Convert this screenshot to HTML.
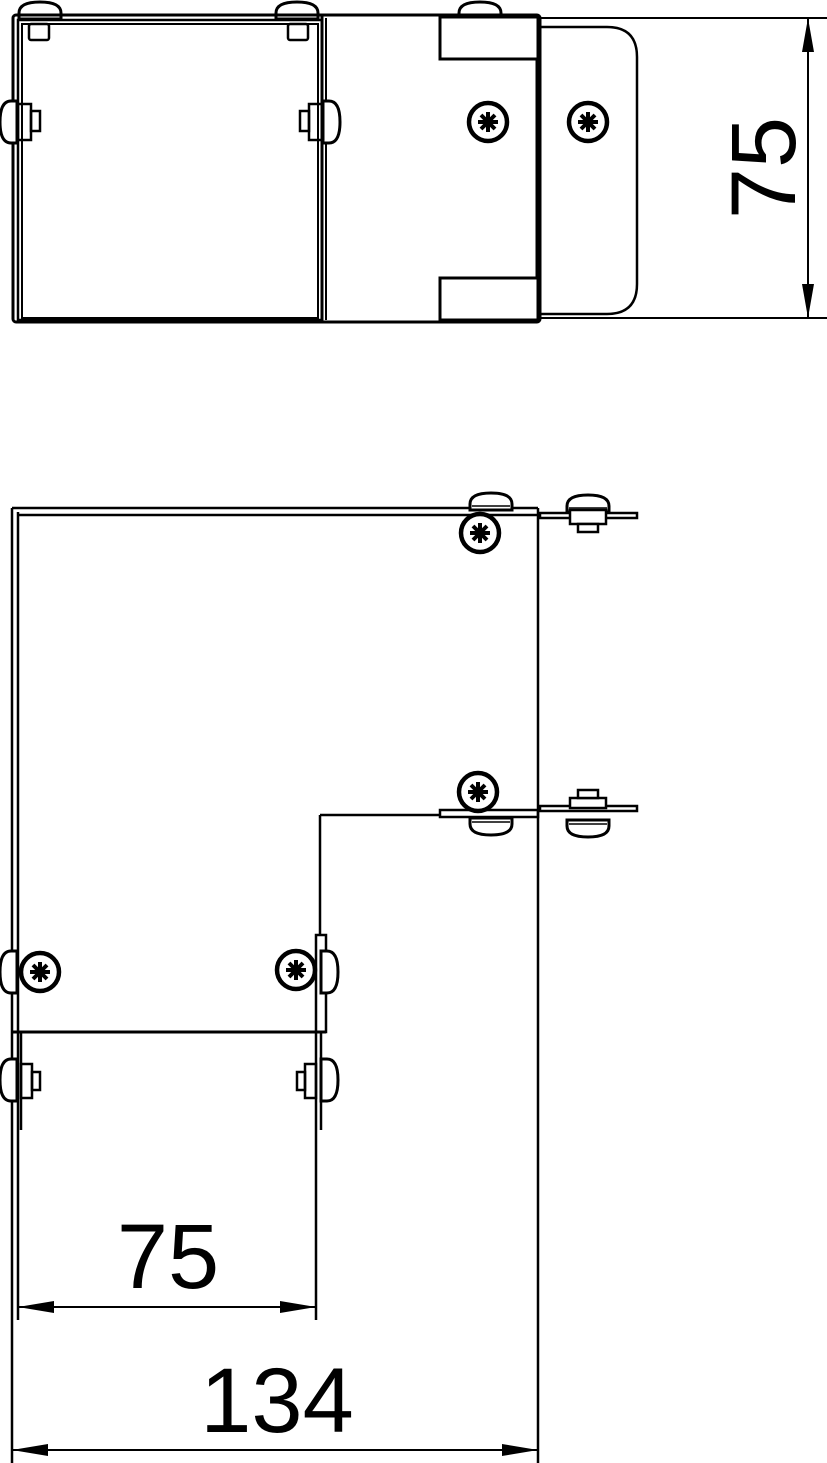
<!DOCTYPE html>
<html><head><meta charset="utf-8"><style>html,body{margin:0;padding:0;background:#fff}svg{display:block}</style></head>
<body>
<svg width="827" height="1463" viewBox="0 0 827 1463" xmlns="http://www.w3.org/2000/svg" fill="none" stroke="#000" stroke-width="2.5">
<defs>
<g id="ps">
<circle r="19" stroke-width="4.5" fill="#fff"/>
<g stroke-width="4"><line x1="-10" y1="0" x2="10" y2="0"/><line x1="0" y1="-10" x2="0" y2="10"/><line x1="-7" y1="-7" x2="7" y2="7"/><line x1="-7" y1="7" x2="7" y2="-7"/></g>
</g>
<g id="capT"><path d="M-21 14 V8 Q-21 -3 0 -3 Q21 -3 21 8 V14 Z" fill="#fff" stroke-width="3"/><line x1="-19" y1="10" x2="19" y2="10" stroke-width="1.5"/></g>
<g id="capL"><path d="M14 -21 H8 Q-3 -21 -3 0 Q-3 21 8 21 H14 Z" fill="#fff" stroke-width="3"/></g>
</defs>

<!-- ===== TOP VIEW ===== -->
<use href="#capT" x="40" y="5"/>
<use href="#capT" x="297" y="5"/>
<use href="#capT" x="480" y="5"/>
<rect x="13" y="15" width="527" height="307" rx="3" stroke-width="3"/>
<rect x="18" y="20" width="304" height="300" stroke-width="2.5"/>
<rect x="22" y="24" width="296" height="294" stroke-width="2"/>
<line x1="322" y1="15" x2="322" y2="322" stroke-width="3"/>
<line x1="326" y1="18" x2="326" y2="320" stroke-width="2"/>
<rect x="29" y="24" width="20" height="16" rx="2"/>
<rect x="288" y="24" width="20" height="16" rx="2"/>
<use href="#capL" x="3" y="122"/>
<rect x="18" y="104" width="13" height="36"/>
<rect x="31" y="111" width="9" height="20"/>
<g transform="translate(640,0) scale(-1,1)"><use href="#capL" x="303" y="122"/></g>
<rect x="309" y="104" width="13" height="36"/>
<rect x="300" y="111" width="9" height="20"/>
<line x1="540" y1="18" x2="827" y2="18" stroke-width="2"/>
<line x1="540" y1="318" x2="827" y2="318" stroke-width="2"/>
<path d="M537 27 H607 Q637 27 637 57 V284 Q637 314 607 314 H537"/>
<line x1="537" y1="18" x2="537" y2="320" stroke-width="3"/>
<rect x="440" y="17" width="98" height="42" fill="#fff" stroke-width="3"/>
<rect x="440" y="278" width="98" height="42" fill="#fff" stroke-width="3"/>
<use href="#ps" x="488" y="122"/>
<use href="#ps" x="588" y="122"/>
<line x1="808" y1="18" x2="808" y2="318" stroke-width="2"/>
<path d="M808 18 L802 52 L814 52 Z M808 318 L802 284 L814 284 Z" fill="#000" stroke="none"/>
<text x="0" y="0" transform="translate(795,168) rotate(-90)" font-family="Liberation Sans, sans-serif" font-size="92" text-anchor="middle" fill="#000" stroke="none">75</text>

<!-- ===== BOTTOM VIEW ===== -->
<line x1="12" y1="508" x2="12" y2="1463"/>
<line x1="18" y1="512" x2="18" y2="1032"/>
<line x1="12" y1="508" x2="538" y2="508"/>
<line x1="18" y1="515" x2="538" y2="515"/>
<line x1="538" y1="508" x2="538" y2="1463"/>
<use href="#capT" x="491" y="496"/>
<line x1="320" y1="815" x2="440" y2="815"/>
<rect x="440" y="810" width="98" height="7"/>
<g transform="translate(0,1640) scale(1,-1)"><use href="#capT" x="491" y="808"/></g>
<line x1="320" y1="815" x2="320" y2="935"/>
<rect x="316" y="935" width="10" height="97"/>
<line x1="12" y1="1032" x2="326" y2="1032" stroke-width="3"/>
<use href="#capL" x="3" y="972"/>
<g transform="translate(650,0) scale(-1,1)"><use href="#capL" x="315" y="972"/></g>
<use href="#ps" x="480" y="533"/>
<use href="#ps" x="478" y="792"/>
<use href="#ps" x="40" y="972"/>
<use href="#ps" x="296" y="970"/>
<!-- right flanges -->
<rect x="540" y="513" width="97" height="5"/>
<use href="#capT" x="588" y="498"/>
<rect x="570" y="510" width="36" height="14" fill="#fff"/>
<rect x="578" y="524" width="20" height="8" fill="#fff"/>
<rect x="540" y="806" width="97" height="5"/>
<rect x="570" y="798" width="36" height="10" fill="#fff"/>
<rect x="578" y="790" width="20" height="8" fill="#fff"/>
<g transform="translate(0,1634) scale(1,-1)"><use href="#capT" x="588" y="800"/></g>
<!-- lower part -->
<line x1="21" y1="1032" x2="21" y2="1130"/>
<line x1="18" y1="1032" x2="18" y2="1320"/>
<line x1="316" y1="1032" x2="316" y2="1320"/>
<line x1="321" y1="1032" x2="321" y2="1130"/>
<use href="#capL" x="3" y="1080"/>
<rect x="21" y="1064" width="11" height="34"/>
<rect x="32" y="1072" width="8" height="18"/>
<g transform="translate(650,0) scale(-1,1)"><use href="#capL" x="315" y="1080"/></g>
<rect x="305" y="1064" width="11" height="34"/>
<rect x="297" y="1072" width="8" height="18"/>
<!-- dims -->
<line x1="18" y1="1307" x2="316" y2="1307" stroke-width="2"/>
<path d="M18 1307 L54 1301 L54 1313 Z M316 1307 L280 1301 L280 1313 Z" fill="#000" stroke="none"/>
<text x="168" y="1288" font-family="Liberation Sans, sans-serif" font-size="92" text-anchor="middle" fill="#000" stroke="none">75</text>
<line x1="12" y1="1450" x2="538" y2="1450" stroke-width="2"/>
<path d="M12 1450 L48 1444 L48 1456 Z M538 1450 L502 1444 L502 1456 Z" fill="#000" stroke="none"/>
<text x="277" y="1432" font-family="Liberation Sans, sans-serif" font-size="92" text-anchor="middle" fill="#000" stroke="none">134</text>
</svg>
</body></html>
